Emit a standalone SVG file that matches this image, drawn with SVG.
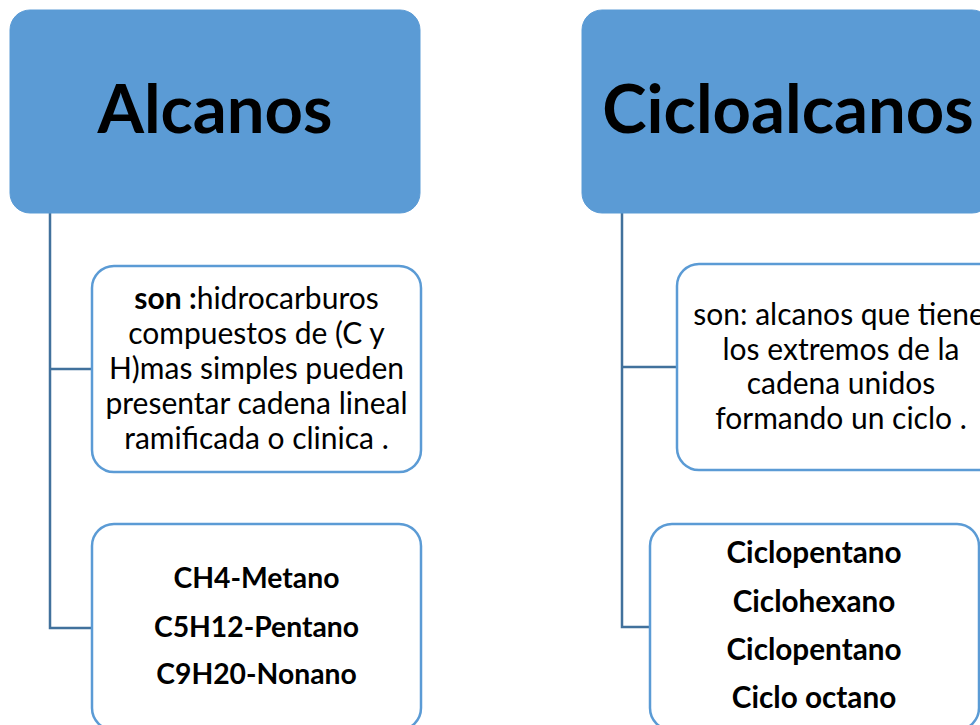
<svg xmlns="http://www.w3.org/2000/svg" width="980" height="725" viewBox="0 0 980 725">
<style>
.hdr{fill:#5B9BD5;stroke:#5B9BD5;stroke-width:1}
.box{fill:#FFFFFF;stroke:#5B9BD5;stroke-width:2.5}
.con{fill:none;stroke:#41719C;stroke-width:2.5}
.title{font-family:Lato,"Liberation Sans",sans-serif;font-weight:bold;font-size:67px;fill:#000;text-anchor:middle}
.body{font-family:Lato,"Liberation Sans",sans-serif;font-size:30px;fill:#000;text-anchor:middle}
.list{font-family:Lato,"Liberation Sans",sans-serif;font-weight:bold;font-size:28.3px;fill:#000;text-anchor:middle}
.list2{font-family:Lato,"Liberation Sans",sans-serif;font-weight:bold;font-size:29.7px;fill:#000;text-anchor:middle}
</style>
<rect width="980" height="725" fill="#FFFFFF"/>
<g id="connectors">
<polyline class="con" points="50,213 50,628 92,628"/>
<line class="con" x1="50" y1="369" x2="92" y2="369"/>
<polyline class="con" points="622,213 622,627 650,627"/>
<line class="con" x1="622" y1="367" x2="677" y2="367"/>
</g>
<g id="alcanos">
<rect class="hdr" x="10" y="10" width="410" height="203" rx="20"/>
<text class="title" x="215" y="133">Alcanos</text>
</g>
<g id="cicloalcanos">
<rect class="hdr" x="582" y="10" width="410" height="203" rx="20"/>
<text class="title" x="788" y="133">Cicloalcanos</text>
</g>
<g id="alcanos-def">
<rect class="box" x="92" y="266" width="329" height="206" rx="22"/>
<text class="body" x="256.5" y="309"><tspan font-weight="bold">son :</tspan>hidrocarburos</text>
<text class="body" x="256.5" y="344">compuestos de (C y</text>
<text class="body" x="256.5" y="379">H)mas simples pueden</text>
<text class="body" x="256.5" y="414">presentar cadena lineal</text>
<text class="body" x="256.5" y="449">ramificada o clinica .</text>
</g>
<g id="alcanos-ej">
<rect class="box" x="92" y="524" width="329" height="206" rx="22"/>
<text class="list" x="256.5" y="588">CH4-Metano</text>
<text class="list" x="256.5" y="637">C5H12-Pentano</text>
<text class="list" x="256.5" y="684">C9H20-Nonano</text>
</g>
<g id="ciclo-def">
<rect class="box" x="677" y="264" width="329" height="206" rx="22"/>
<text class="body" x="839" y="325">son: alcanos que tiene</text>
<text class="body" x="841" y="359.5">los extremos de la</text>
<text class="body" x="841" y="394">cadena unidos</text>
<text class="body" x="841" y="428.5">formando un ciclo .</text>
</g>
<g id="ciclo-ej">
<rect class="box" x="650" y="524" width="329" height="206" rx="22"/>
<text class="list2" x="814" y="563">Ciclopentano</text>
<text class="list2" x="814" y="612">Ciclohexano</text>
<text class="list2" x="814" y="660">Ciclopentano</text>
<text class="list2" x="814" y="708">Ciclo octano</text>
</g>
</svg>
